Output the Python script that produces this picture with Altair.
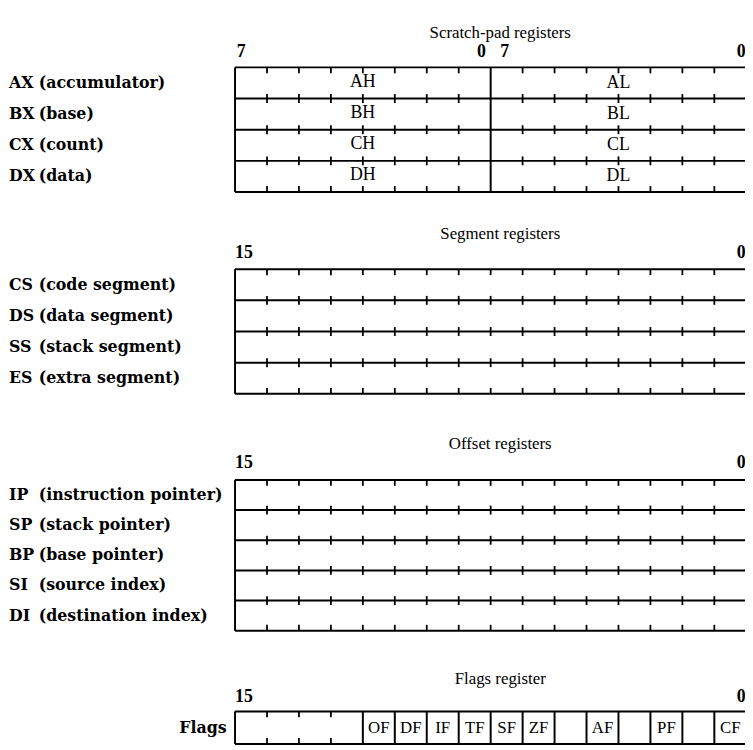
import altair as alt
import pandas as pd

# ---------------- data ----------------
section_titles = ["Scratch-pad registers", "Segment registers", "Offset registers", "Flags register"]

scratch_names = ["AX", "BX", "CX", "DX"]
scratch_desc = ["(accumulator)", "(base)", "(count)", "(data)"]
scratch_high = ["AH", "BH", "CH", "DH"]
scratch_low = ["AL", "BL", "CL", "DL"]

segment_names = ["CS", "DS", "SS", "ES"]
segment_desc = ["(code segment)", "(data segment)", "(stack segment)", "(extra segment)"]

offset_names = ["IP", "SP", "BP", "SI", "DI"]
offset_desc = ["(instruction pointer)", "(stack pointer)", "(base pointer)",
               "(source index)", "(destination index)"]

flags_label = "Flags"
# bits 15 .. 0, left to right
flag_names = ["", "", "", "", "OF", "DF", "IF", "TF", "SF", "ZF", "", "AF", "", "PF", "", "CF"]

# bit numbers printed above each register
scratch_bits = ["7", "0", "7", "0"]
wide_bits = ["15", "0"]

# ---------------- layout (page pixels) ----------------
W, H = 745, 742
X_LEFT = 237.5          # page x of the left border of the registers
UNIT = 32.3             # width of one bit cell
x_min = -(X_LEFT - 8) / UNIT
x_max = x_min + W / UNIT


def px(p):
    return (p - X_LEFT) / UNIT


sections = [
    dict(title_y=29, bits_y=48, top=64, rows=4, row_h=31.5),
    dict(title_y=232, bits_y=252, top=268, rows=4, row_h=31.5),
    dict(title_y=445, bits_y=464, top=481, rows=5, row_h=30.5),
    dict(title_y=682, bits_y=701, top=715, rows=1, row_h=33),
]
RIGHT = 16.2

lines = []
ticks = []


def add_line(x, x2, y, y2, kind="line"):
    (lines if kind == "line" else ticks).append(dict(x=x, x2=x2, y=y, y2=y2))


tick_sets = [
    [k for k in range(1, 16) if k != 8],
    list(range(1, 16)),
    list(range(1, 16)),
    [k for k in range(1, 16)
     if flag_names[k - 1] == "" and flag_names[k] == ""],
]

for si, s in enumerate(sections):
    top = s["top"]
    bottom = top + s["rows"] * s["row_h"]
    for j in range(s["rows"] + 1):
        y = top + j * s["row_h"]
        add_line(0, RIGHT, y, y)
        for k in tick_sets[si]:
            if j == 0:
                add_line(k, k, y, y + 6, "tick")
            elif j == s["rows"]:
                add_line(k, k, y - 6, y, "tick")
            else:
                add_line(k, k, y - 4.5, y + 4.5, "tick")
    add_line(0, 0, top, bottom)
    add_line(16, 16, top, bottom)
    if si == 0:
        add_line(8, 8, top, bottom)
    if si == 3:
        for k in range(1, 16):
            if flag_names[k - 1] != "" or flag_names[k] != "":
                add_line(k, k, top, bottom)

lines_df = pd.DataFrame(lines)
ticks_df = pd.DataFrame(ticks)

# titles
titles_df = pd.DataFrame([dict(x=8.3, y=s["title_y"], text=t)
                          for s, t in zip(sections, section_titles)])

# bit numbers
bits_left = []
bits_right = []
s0 = sections[0]
bits_left.append(dict(x=0.05, y=s0["bits_y"], text=scratch_bits[0]))
bits_right.append(dict(x=7.85, y=s0["bits_y"], text=scratch_bits[1]))
bits_left.append(dict(x=8.3, y=s0["bits_y"], text=scratch_bits[2]))
bits_right.append(dict(x=15.98, y=s0["bits_y"], text=scratch_bits[3]))
for s in sections[1:]:
    bits_left.append(dict(x=0.0, y=s["bits_y"], text=wide_bits[0]))
    bits_right.append(dict(x=15.98, y=s["bits_y"], text=wide_bits[1]))
bits_left_df = pd.DataFrame(bits_left)
bits_right_df = pd.DataFrame(bits_right)

# cell labels
cells = []
for i in range(4):
    yc = s0["top"] + (i + 0.5) * s0["row_h"]
    cells.append(dict(x=4, y=yc - 1, text=scratch_high[i]))
    cells.append(dict(x=12, y=yc, text=scratch_low[i]))
cells_df = pd.DataFrame(cells)

sf = sections[3]
flags_df = pd.DataFrame([dict(x=i + 0.5, y=sf["top"] + sf["row_h"] / 2, text=n)
                         for i, n in enumerate(flag_names) if n])

# left labels
names, descs = [], []
for s, nm, ds in zip(sections[:3],
                     [scratch_names, segment_names, offset_names],
                     [scratch_desc, segment_desc, offset_desc]):
    for i, (n, d) in enumerate(zip(nm, ds)):
        yc = s["top"] + (i + 0.5) * s["row_h"]
        names.append(dict(x=px(9), y=yc, text=n))
        descs.append(dict(x=px(39), y=yc, text=d))
names_df = pd.DataFrame(names)
descs_df = pd.DataFrame(descs)
flagname_df = pd.DataFrame([dict(x=px(229), y=sf["top"] + sf["row_h"] / 2, text=flags_label)])

# ---------------- chart ----------------
xs = alt.Scale(domain=[x_min, x_max], nice=False, zero=False)
ys = alt.Scale(domain=[8, 750], reverse=True, nice=False, zero=False)
X = alt.X("x:Q", scale=xs, axis=None)
Y = alt.Y("y:Q", scale=ys, axis=None)

SERIF = "Liberation Serif"
WIDE = "DejaVu Serif"

rules = alt.Chart(lines_df).mark_rule(color="black", strokeWidth=2).encode(
    x=X, x2="x2:Q", y=Y, y2="y2:Q")
tick_rules = alt.Chart(ticks_df).mark_rule(color="black", strokeWidth=1.8).encode(
    x=X, x2="x2:Q", y=Y, y2="y2:Q")


def text_layer(df, size, weight="normal", align="center", font=SERIF):
    return alt.Chart(df).mark_text(font=font, fontSize=size, fontWeight=weight,
                                   align=align, baseline="middle", color="black").encode(
        x=X, y=Y, text="text:N")


chart = alt.layer(
    rules,
    tick_rules,
    text_layer(titles_df, 17),
    text_layer(bits_left_df, 18, "bold", "left"),
    text_layer(bits_right_df, 18, "bold", "right"),
    text_layer(cells_df, 18),
    text_layer(flags_df, 17),
    text_layer(names_df, 16, "bold", "left", WIDE),
    text_layer(descs_df, 16, "bold", "left", WIDE),
    text_layer(flagname_df, 16, "bold", "right", WIDE),
).properties(width=W, height=H, padding=0, autosize="none").configure_view(stroke=None)

chart.save("out.html", embed_options={"renderer": "svg", "actions": False})
